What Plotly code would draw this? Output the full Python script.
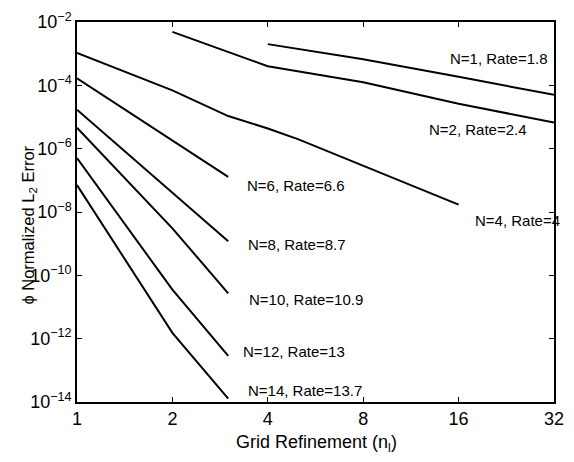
import plotly.graph_objects as go

# Data (grid refinement n_l, normalized L2 error)
x_n1 = [4, 8, 16, 32]
y_n1 = [2.0e-3, 6.65e-4, 1.86e-4, 5.0e-5]

x_n2 = [2, 4, 8, 16, 32]
y_n2 = [4.87e-3, 4.02e-4, 1.25e-4, 2.62e-5, 6.68e-6]

x_n4 = [1, 2, 3, 4, 5, 8, 16]
y_n4 = [1.06e-3, 6.92e-5, 1.07e-5, 4.34e-6, 1.97e-6, 2.83e-7, 1.71e-8]

x_n6 = [1, 2, 3]
y_n6 = [1.66e-4, 1.83e-6, 1.28e-7]

x_n8 = [1, 2, 3]
y_n8 = [1.70e-5, 4.06e-8, 1.20e-9]

x_n10 = [1, 2, 3]
y_n10 = [4.56e-6, 3.05e-9, 2.71e-11]

x_n12 = [1, 2, 3]
y_n12 = [5.02e-7, 3.53e-11, 2.86e-13]

x_n14 = [1, 2, 3]
y_n14 = [7.06e-8, 1.53e-12, 1.27e-14]

series = [
    ("N=1, Rate=1.8", x_n1, y_n1),
    ("N=2, Rate=2.4", x_n2, y_n2),
    ("N=4, Rate=4", x_n4, y_n4),
    ("N=6, Rate=6.6", x_n6, y_n6),
    ("N=8, Rate=8.7", x_n8, y_n8),
    ("N=10, Rate=10.9", x_n10, y_n10),
    ("N=12, Rate=13", x_n12, y_n12),
    ("N=14, Rate=13.7", x_n14, y_n14),
]

# label anchor positions (log10 x, log10 y)
label_pos = [
    (1.171, -3.15),
    (1.104, -5.40),
    (1.249, -8.27),
    (0.529, -7.15),
    (0.532, -9.04),
    (0.535, -10.77),
    (0.517, -12.42),
    (0.532, -13.64),
]

x_ticks = [1, 2, 4, 8, 16, 32]
x_ticktext = ["1", "2", "4", "8", "16", "32"]
y_exps = [-14, -12, -10, -8, -6, -4, -2]

fig = go.Figure()
for name, xs, ys in series:
    fig.add_trace(go.Scatter(x=xs, y=ys, mode="lines", name=name,
                             line=dict(color="black", width=2),
                             showlegend=False))

for (name, _, _), (lx, ly) in zip(series, label_pos):
    fig.add_annotation(x=lx, y=ly, xref="x", yref="y", text=name,
                       showarrow=False, xanchor="left", yanchor="middle",
                       font=dict(size=15, color="black"))

# axis titles as annotations for precise placement
fig.add_annotation(x=0.503, y=-0.11, xref="paper", yref="paper",
                   text="Grid Refinement (n<sub>l</sub>)", showarrow=False,
                   xanchor="center", yanchor="middle", font=dict(size=18))
fig.add_annotation(x=-0.100, y=0.465, xref="paper", yref="paper",
                   text="\u03d5 Normalized L<sub>2</sub> Error", showarrow=False,
                   textangle=-90, xanchor="center", yanchor="middle",
                   font=dict(size=16.5))

font_family = "Liberation Sans, Arial, Helvetica, sans-serif"
fig.update_layout(
    width=558, height=446,
    margin=dict(l=69, r=2, t=9, b=52),
    paper_bgcolor="white", plot_bgcolor="white",
    font=dict(family=font_family, size=15, color="black"),
    xaxis=dict(
        type="log", range=[0, 1.50515],
        tickvals=x_ticks, ticktext=x_ticktext,
        ticks="inside", ticklen=5, tickwidth=1, tickcolor="black",
        showline=True, linecolor="black", linewidth=1.5, mirror="ticks",
        showgrid=False, zeroline=False,
        tickfont=dict(size=18), ticklabeloverflow="allow",
    ),
    yaxis=dict(
        type="log", range=[-14, -2],
        tickvals=[10.0 ** e for e in y_exps],
        ticktext=["10<sup>\u2212%d</sup>" % (-e) for e in y_exps],
        ticks="inside", ticklen=5, tickwidth=1, tickcolor="black",
        showline=True, linecolor="black", linewidth=1.5, mirror="ticks",
        showgrid=False, zeroline=False,
        tickfont=dict(size=18), ticklabeloverflow="allow",
    ),
)

fig.write_html("out.html")
